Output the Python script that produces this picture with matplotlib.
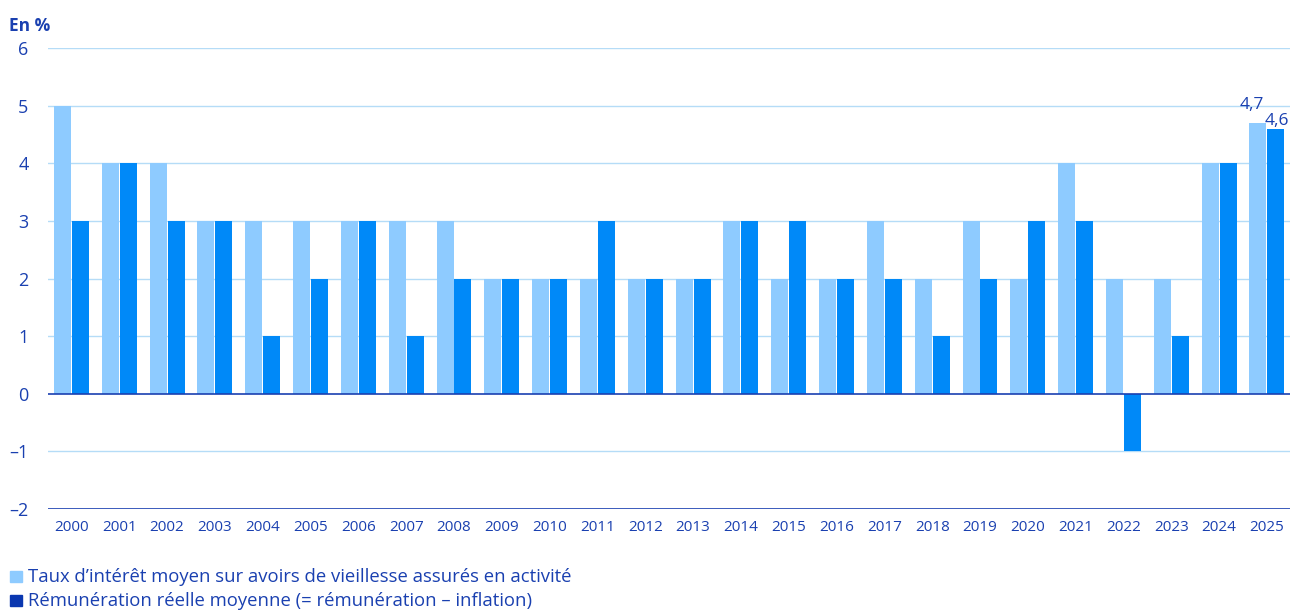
import numpy as np
import matplotlib
matplotlib.use("Agg")
import matplotlib.pyplot as plt
from matplotlib.patches import Rectangle

# ---------- data ----------
years = [str(y) for y in range(2000, 2026)]
taux = [5, 4, 4, 3, 3, 3, 3, 3, 3, 2, 2, 2, 2, 2, 3, 2, 2, 3, 2, 3, 2, 4, 2, 2, 4, 4.7]
remun = [3, 4, 3, 3, 1, 2, 3, 1, 2, 2, 2, 3, 2, 2, 3, 3, 2, 2, 1, 2, 3, 3, -1, 1, 4, 4.6]
yticks = [-2, -1, 0, 1, 2, 3, 4, 5, 6]
ytick_labels = ["\u20132", "\u20131", "0", "1", "2", "3", "4", "5", "6"]
legend_labels = ["Taux d\u2019intérêt moyen sur avoirs de vieillesse assurés en activité",
                 "Rémunération réelle moyenne (= rémunération \u2013 inflation)"]
# --------------------------

LIGHT = "#8ecbff"
DARK = "#0089f8"
TXT = "#1a40b0"
GRID = "#b5dcf7"
LEG_DARK = "#0a37b0"

plt.rcParams["font.family"] = ["Open Sans", "DejaVu Sans"]

fig = plt.figure(figsize=(12.97, 6.11), dpi=100)
ax = fig.add_axes([0.037, 0.1669, 0.9575, 0.7545])

x = np.arange(len(years))
w = 0.355
ax.bar(x - w / 2 - 0.01, taux, width=w, color=LIGHT, zorder=3)
ax.bar(x + w / 2 + 0.01, remun, width=w, color=DARK, zorder=3)

ax.set_xlim(-0.49, len(years) - 0.52)
ax.set_ylim(-2, 6)
ax.set_yticks(yticks)
ax.set_yticklabels(ytick_labels)
for y in yticks:
    if y in (0, -2):
        ax.axhline(y, color=TXT, lw=1.2, zorder=4)
    else:
        ax.axhline(y, color=GRID, lw=1.0, zorder=1)

ax.set_xticks(x)
ax.set_xticklabels(years)
ax.tick_params(axis="both", length=0, colors=TXT)
ax.tick_params(axis="x", labelsize=11, pad=8)
ax.tick_params(axis="y", labelsize=13, pad=14)
for lbl in ax.get_yticklabels():
    lbl.set_horizontalalignment("right")
for s in ax.spines.values():
    s.set_visible(False)

# value labels for the last year
i = len(years) - 1
ax.annotate("4,7", (x[i] - w / 2, taux[i]), xytext=(-5, 7), textcoords="offset points",
            ha="center", va="bottom", color=TXT, fontsize=12.5)
ax.annotate("4,6", (x[i] + w / 2, remun[i]), xytext=(1, 0), textcoords="offset points",
            ha="center", va="bottom", color=TXT, fontsize=12.5)

fig.text(0.007, 0.957, "En %", color=TXT, fontsize=12.5, fontweight="bold", va="center")

# legend
for k, (lab, col) in enumerate(zip(legend_labels, [LIGHT, LEG_DARK])):
    yy = 1 - (577 + 24 * k) / 611
    fig.patches.append(Rectangle((0.0077, yy - 0.009), 0.0093, 0.019, color=col,
                                 transform=fig.transFigure, figure=fig))
    fig.text(0.0215, yy, lab, color=TXT, fontsize=13.3, va="center")

fig.savefig("out.png", dpi=100)
